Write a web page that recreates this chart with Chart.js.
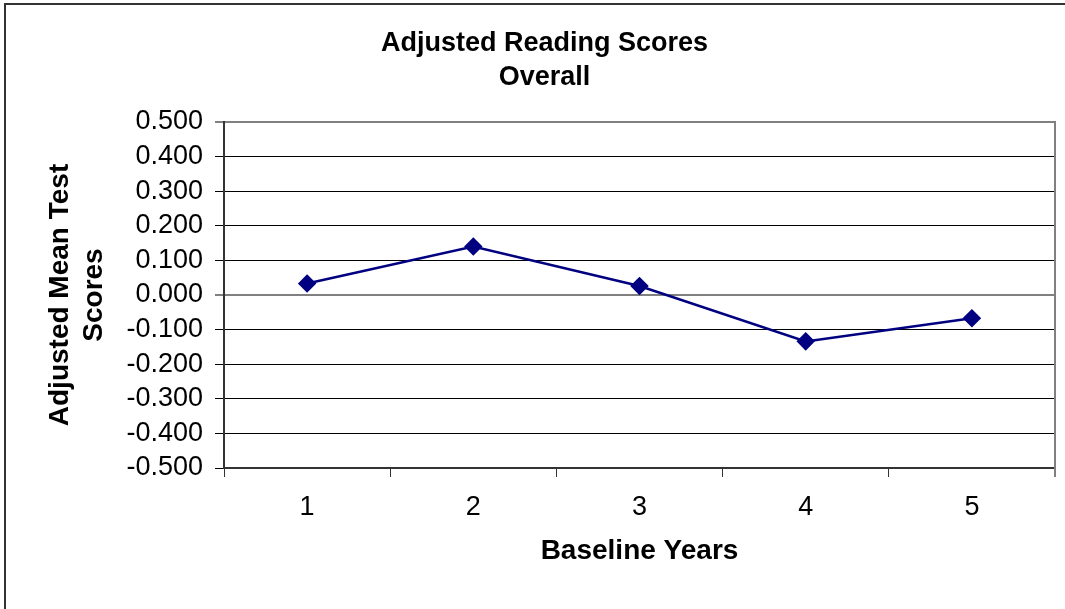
<!DOCTYPE html>
<html>
<head>
<meta charset="utf-8">
<title>Adjusted Reading Scores</title>
<script src="https://cdn.jsdelivr.net/npm/chart.js@4/dist/chart.umd.min.js"></script>
<style>
  body { margin: 0; background: #fff; overflow: hidden; }
  #frame {
    position: absolute; left: 4px; top: 3px; width: 1100px; height: 640px;
    border-left: 2px solid #333; border-top: 2px solid #333;
  }
  #chart { position: absolute; left: 0; top: 0; }
</style>
</head>
<body>
<div id="frame"></div>
<canvas id="chart" width="1065" height="609"></canvas>
<script>
const titleLines = ["Adjusted Reading Scores", "Overall"];
const yTitleLines = ["Adjusted Mean Test", "Scores"];
const xTitle = "Baseline Years";
const baselineYears = ["1", "2", "3", "4", "5"];
const adjustedScores = [0.033, 0.140, 0.026, -0.134, -0.067];

const fontFam = "'Liberation Sans', Arial, sans-serif";

// grey border on the right side of the plot
const plotBorder = {
  id: "plotBorder",
  afterDraw(chart) {
    const a = chart.chartArea;
    const c = chart.ctx;
    c.save();
    c.strokeStyle = "#808080";
    c.lineWidth = 2;
    c.beginPath();
    c.moveTo(a.right, a.top - 1);
    c.lineTo(a.right, a.bottom + 9);
    c.stroke();
    c.restore();
  }
};

function isGrey(v) {
  return Math.abs(v) < 1e-9 || Math.abs(v - 0.5) < 1e-9;
}

const ctx = document.getElementById("chart").getContext("2d");
new Chart(ctx, {
  type: "line",
  data: {
    labels: baselineYears,
    datasets: [{
      data: adjustedScores,
      borderColor: "#000080",
      backgroundColor: "#000080",
      borderWidth: 2.5,
      pointStyle: "rectRot",
      pointRadius: 7.5,
      pointBackgroundColor: "#000080",
      pointBorderColor: "#000080",
      tension: 0
    }]
  },
  options: {
    responsive: false,
    animation: false,
    layout: { padding: { left: 30, right: 6, top: 0, bottom: 0 } },
    plugins: {
      legend: { display: false },
      tooltip: { enabled: false },
      title: {
        display: true,
        text: titleLines,
        color: "#000",
        font: { family: fontFam, size: 27, weight: "bold", lineHeight: 34 / 27 },
        padding: { top: 27, bottom: 27 }
      }
    },
    scales: {
      x: {
        offset: true,
        grid: {
          offset: true,
          drawOnChartArea: false,
          drawTicks: true,
          tickLength: 9,
          color: "#333",
          lineWidth: 1
        },
        border: { color: "#333", width: 2 },
        ticks: {
          color: "#000",
          padding: 14,
          autoSkip: false,
          font: { family: fontFam, size: 27 }
        },
        title: {
          display: true,
          text: xTitle,
          color: "#000",
          font: { family: fontFam, size: 28, weight: "bold" },
          padding: { top: 0, bottom: 41 }
        },
        afterFit(scale) { scale.height = 141; }
      },
      y: {
        min: -0.5,
        max: 0.5,
        ticks: {
          stepSize: 0.1,
          autoSkip: false,
          color: "#000",
          padding: 12,
          font: { family: fontFam, size: 27 },
          callback: v => (Math.abs(v) < 1e-9 ? 0 : v).toFixed(3)
        },
        grid: {
          tickLength: 9,
          color: c => isGrey(c.tick.value) ? "#808080" : "#000",
          lineWidth: c => isGrey(c.tick.value) ? 2 : 1
        },
        border: { color: "#333", width: 2 },
        title: {
          display: true,
          text: yTitleLines,
          color: "#000",
          font: { family: fontFam, size: 28, weight: "bold", lineHeight: 34 / 28 },
          padding: { top: 13, bottom: 0 }
        },
        afterFit(scale) { scale.width = 194; }
      }
    }
  },
  plugins: [plotBorder]
});
</script>
</body>
</html>
